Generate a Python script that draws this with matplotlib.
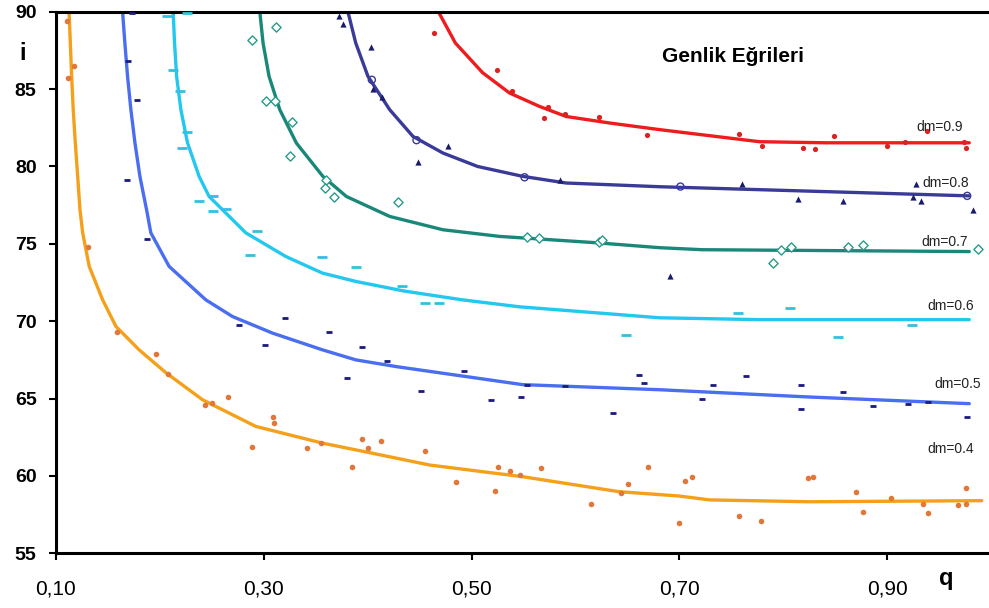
import matplotlib
matplotlib.use("Agg")
import matplotlib.pyplot as plt
from matplotlib.ticker import FixedLocator

plt.rcParams['font.family'] = ['Liberation Sans', 'DejaVu Sans']

# ---------------- fitted curves ----------------
q_fit_04 = [0.1126, 0.1138, 0.1151, 0.1166, 0.1186, 0.1209, 0.1231, 0.1257, 0.132, 0.1449, 0.1577, 0.180,
            0.2058, 0.2411, 0.2923, 0.3564, 0.402, 0.46, 0.549, 0.642, 0.70, 0.729, 0.825, 0.991]
i_fit_04 = [90.0, 87.98, 85.82, 83.67, 81.53, 79.35, 77.2, 75.71, 73.54, 71.38, 69.66, 68.15,
            66.67, 64.92, 63.2, 62.12, 61.5, 60.7, 59.95, 58.98, 58.7, 58.45, 58.33, 58.4]

q_fit_05 = [0.1641, 0.1663, 0.1689, 0.1721, 0.176, 0.1808, 0.1872, 0.1913, 0.2089, 0.2442, 0.2699, 0.3084,
            0.3564, 0.3885, 0.428, 0.549, 0.681, 0.825, 0.979]
i_fit_05 = [90.0, 87.98, 85.82, 83.67, 81.53, 79.35, 77.2, 75.71, 73.54, 71.38, 70.3, 69.23,
            68.15, 67.5, 67.06, 65.9, 65.57, 65.1, 64.67]

q_fit_06 = [0.2128, 0.2141, 0.2161, 0.2202, 0.2266, 0.2378, 0.2474, 0.2827, 0.3212, 0.3564, 0.3885,
            0.435, 0.491, 0.546, 0.681, 0.777, 0.979]
i_fit_06 = [90.0, 88.0, 85.82, 83.67, 81.53, 79.35, 78.06, 75.71, 74.18, 73.11, 72.57,
            71.95, 71.38, 70.93, 70.22, 70.1, 70.1]

q_fit_07 = [0.2962, 0.2993, 0.3051, 0.3154, 0.3314, 0.357, 0.3795, 0.4212, 0.4724, 0.5269, 0.62, 0.681,
            0.722, 0.979]
i_fit_07 = [90.0, 87.98, 85.82, 83.67, 81.51, 79.35, 78.06, 76.77, 75.91, 75.48, 75.07, 74.75,
            74.62, 74.5]

q_fit_08 = [0.381, 0.3885, 0.4003, 0.4212, 0.4436, 0.4724, 0.5058, 0.5493, 0.591, 0.6327, 0.681, 0.777, 0.979]
i_fit_08 = [90.0, 87.98, 85.82, 83.67, 81.94, 80.87, 80.0, 79.36, 78.93, 78.82, 78.69, 78.5, 78.1]

q_fit_09 = [0.4681, 0.4844, 0.5106, 0.5365, 0.5654, 0.591, 0.6327, 0.681, 0.777, 0.841, 0.979]
i_fit_09 = [90.0, 87.98, 86.06, 84.75, 83.88, 83.23, 82.81, 82.38, 81.6, 81.53, 81.53]

# ---------------- measured points ----------------
q_pts_04 = [0.1106, 0.117, 0.1115, 0.131, 0.159, 0.196, 0.208, 0.243, 0.25, 0.266, 0.289, 0.309, 0.310, 0.342, 0.355,
            0.385, 0.395, 0.40, 0.413, 0.455, 0.485, 0.523, 0.525, 0.537, 0.547, 0.567, 0.615, 0.644, 0.651, 0.670,
            0.70, 0.705, 0.712, 0.757, 0.779, 0.824, 0.829, 0.870, 0.877, 0.904, 0.934, 0.939, 0.968, 0.976, 0.976]
i_pts_04 = [89.4, 86.5, 85.7, 74.8, 69.3, 67.9, 66.6, 64.6, 64.7, 65.1, 61.9, 63.8, 63.4, 61.8, 62.1,
            60.6, 62.4, 61.8, 62.25, 61.6, 59.6, 59.0, 60.6, 60.3, 60.05, 60.5, 58.2, 58.9, 59.5, 60.6,
            56.95, 59.65, 59.9, 57.4, 57.1, 59.85, 59.9, 58.95, 57.65, 58.55, 58.2, 57.6, 58.1, 59.2, 58.2]

q_pts_05 = [0.173, 0.169, 0.178, 0.168, 0.188, 0.276, 0.301, 0.320, 0.363, 0.38, 0.395, 0.419, 0.451, 0.493,
            0.519, 0.548, 0.553, 0.59, 0.636, 0.661, 0.666, 0.722, 0.732, 0.764, 0.817, 0.817, 0.857, 0.886,
            0.92, 0.939, 0.977]
i_pts_05 = [89.9, 86.8, 84.3, 79.1, 75.3, 69.75, 68.45, 70.2, 69.3, 66.3, 68.3, 67.4, 65.5, 66.8,
            64.9, 65.1, 65.9, 65.8, 64.05, 66.5, 66.0, 64.95, 65.9, 66.45, 65.9, 64.3, 65.4, 64.5,
            64.65, 64.8, 63.8]

q_pts_06 = [0.207, 0.226, 0.213, 0.219, 0.226, 0.221, 0.238, 0.251, 0.251, 0.264, 0.293, 0.287, 0.356,
            0.389, 0.433, 0.455, 0.469, 0.649, 0.756, 0.806, 0.853, 0.924]
i_pts_06 = [89.7, 89.9, 86.25, 84.9, 82.2, 81.2, 77.8, 78.1, 77.1, 77.25, 75.8, 74.3, 74.15,
            73.5, 72.3, 71.2, 71.2, 69.1, 70.5, 70.85, 69.0, 69.75]

q_pts_07 = [0.289, 0.312, 0.302, 0.311, 0.327, 0.325, 0.36, 0.359, 0.368, 0.429, 0.553, 0.565, 0.623, 0.626,
            0.79, 0.798, 0.807, 0.862, 0.877, 0.987]
i_pts_07 = [88.2, 89.0, 84.25, 84.25, 82.85, 80.7, 79.1, 78.6, 78.05, 77.7, 75.45, 75.35, 75.1, 75.25,
            73.75, 74.6, 74.8, 74.8, 74.9, 74.65]

q_pts_08 = [0.372, 0.376, 0.403, 0.405, 0.414, 0.448, 0.477, 0.585, 0.76, 0.814, 0.857, 0.691, 0.925, 0.933,
            0.928, 0.983]
i_pts_08 = [89.7, 89.2, 87.7, 85.0, 84.5, 80.3, 81.3, 79.1, 78.85, 77.9, 77.8, 72.9, 78.0, 77.8,
            78.85, 77.2]
q_ring_08 = [0.404, 0.447, 0.551, 0.701, 0.977]
i_ring_08 = [85.6, 81.7, 79.3, 78.7, 78.1]

q_pts_09 = [0.464, 0.524, 0.539, 0.574, 0.570, 0.59, 0.623, 0.669, 0.757, 0.78, 0.819, 0.831, 0.849, 0.9,
            0.917, 0.938, 0.974, 0.976]
i_pts_09 = [88.6, 86.25, 84.85, 83.85, 83.1, 83.4, 83.2, 82.05, 82.1, 81.35, 81.2, 81.15, 82.0, 81.35,
            81.55, 82.3, 81.55, 81.2]

series_labels = ['dm=0.9', 'dm=0.8', 'dm=0.7', 'dm=0.6', 'dm=0.5', 'dm=0.4']
label_q = [0.928, 0.934, 0.933, 0.939, 0.945, 0.939]
label_i = [82.56, 78.94, 75.12, 71.0, 65.95, 61.74]

x_ticks = [0.10, 0.30, 0.50, 0.70, 0.90]
x_tick_labels = ['0,10', '0,30', '0,50', '0,70', '0,90']
y_ticks = [55, 60, 65, 70, 75, 80, 85, 90]

# ---------------- drawing ----------------
fig = plt.figure(figsize=(9.89, 6.08), dpi=100)
ax = fig.add_axes([0.0566, 0.0900, 0.9434, 0.8907])

lw = 2.4
kw = dict(lw=lw, solid_capstyle='round', solid_joinstyle='round', zorder=2)
ax.plot(q_fit_04, i_fit_04, color='#f5a01a', **kw)
ax.plot(q_fit_05, i_fit_05, color='#4a6ef0', **kw)
ax.plot(q_fit_06, i_fit_06, color='#22c8ee', **kw)
ax.plot(q_fit_07, i_fit_07, color='#1a8878', **kw)
ax.plot(q_fit_08, i_fit_08, color='#3a3a98', **kw)
ax.plot(q_fit_09, i_fit_09, color='#ee1c1c', **kw)

ax.scatter(q_pts_04, i_pts_04, s=16, marker='o', color='#e2773a', lw=0, zorder=3)
ax.scatter(q_pts_05, i_pts_05, s=22, marker='_', color='#1a1a80', lw=2, zorder=3)
ax.scatter(q_pts_06, i_pts_06, s=50, marker='_', color='#33c0e0', lw=2, zorder=3)
ax.scatter(q_pts_07, i_pts_07, s=22, marker='D', facecolor='white', edgecolor='#2a9a8a', lw=1.0, zorder=3)
ax.scatter(q_pts_08, i_pts_08, s=20, marker='^', color='#1a1a6e', lw=0, zorder=3)
ax.scatter(q_ring_08, i_ring_08, s=26, marker='o', facecolor='none', edgecolor='#3a3a98', lw=1.0, zorder=3)
ax.scatter(q_pts_09, i_pts_09, s=14, marker='o', color='#dd2020', lw=0, zorder=3)

for t, xq, yi in zip(series_labels, label_q, label_i):
    ax.text(xq, yi, t, fontsize=10, color='#222222', ha='left', va='center', zorder=4)

ax.set_xlim(0.10, 0.998)
ax.set_ylim(55, 90)
ax.xaxis.set_major_locator(FixedLocator(x_ticks))
ax.set_xticklabels(x_tick_labels, fontsize=15)
ax.set_yticks(y_ticks)
ax.set_yticklabels([str(v) for v in y_ticks], fontsize=14, fontweight='bold')
ax.tick_params(axis='both', direction='out', length=5, width=1.5)
ax.tick_params(axis='x', pad=14)
ax.tick_params(axis='y', pad=9)

for s in ['left', 'bottom', 'top']:
    ax.spines[s].set_linewidth(2.2)
ax.spines['right'].set_visible(False)

fig.text(23 / 989, 1 - 53 / 608, 'i', fontsize=17, fontweight='bold', ha='center', va='center')
fig.text(946 / 989, 1 - 579 / 608, 'q', fontsize=17, fontweight='bold', ha='center', va='center')
ax.text(0.6837, 87.1, 'Genlik Eğrileri', fontsize=15, fontweight='bold', ha='left', va='center')

fig.savefig('out.png', dpi=100, facecolor='white')
